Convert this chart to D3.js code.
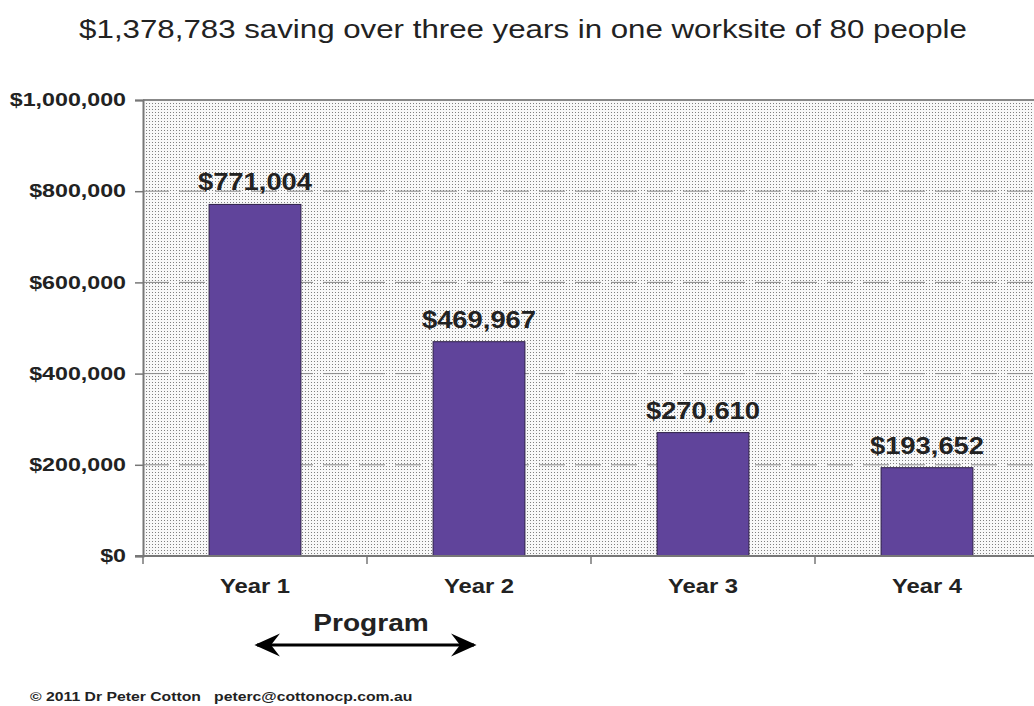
<!DOCTYPE html>
<html>
<head>
<meta charset="utf-8">
<script src="https://cdn.jsdelivr.net/npm/d3@7"></script>
<style>
  body { margin: 0; background: #fff; }
  text { font-family: "Liberation Sans", Arial, sans-serif; }
</style>
</head>
<body>
<div id="chart"></div>
<script>
var years = ["Year 1", "Year 2", "Year 3", "Year 4"];
var savings = [771004, 469967, 270610, 193652];
var yTicks = [0, 200000, 400000, 600000, 800000, 1000000];

var svgWidth = 1034;
var svgHeight = 706;
var margin = { top: 100, right: -5, bottom: 150, left: 143 };
var width = svgWidth - margin.left - margin.right;
var height = svgHeight - margin.top - margin.bottom;

// the original lettering is wider than Liberation Sans, stretch it
function stretch(sel, factor) {
  sel.each(function() {
    var len = this.getComputedTextLength();
    d3.select(this)
      .attr("textLength", len * factor)
      .attr("lengthAdjust", "spacingAndGlyphs");
  });
}

var svg = d3.select("#chart").append("svg")
  .attr("width", svgWidth)
  .attr("height", svgHeight);

// dotted background pattern
var defs = svg.append("defs");
var pat = defs.append("pattern")
  .attr("id", "dots")
  .attr("width", 3)
  .attr("height", 3)
  .attr("patternUnits", "userSpaceOnUse");
pat.append("rect").attr("width", 3).attr("height", 3).attr("fill", "#f8f8f8");
pat.append("rect").attr("width", 1).attr("height", 1).attr("fill", "#808080");

var chartGroup = svg.append("g")
  .attr("transform", `translate(${margin.left}, ${margin.top})`);

var x = d3.scaleBand().domain(years).range([0, width]).paddingInner(0.59).paddingOuter(0.295);
var xBand = d3.scaleBand().domain(years).range([0, width]);
var y = d3.scaleLinear().domain([0, 1000000]).range([height, 0]);

// plot area
chartGroup.append("rect")
  .attr("width", width)
  .attr("height", height)
  .attr("fill", "url(#dots)");

// gridlines
chartGroup.selectAll(".grid")
  .data(yTicks.slice(1, -1))
  .enter()
  .append("line")
  .attr("x1", 0)
  .attr("x2", width)
  .attr("y1", d => y(d))
  .attr("y2", d => y(d))
  .attr("stroke", "#888")
  .attr("stroke-width", 1)
  .attr("stroke-dasharray", "26,10");

// top border
chartGroup.append("line")
  .attr("x1", 0).attr("x2", width)
  .attr("y1", 0).attr("y2", 0)
  .attr("stroke", "#888").attr("stroke-width", 2);

// bars
chartGroup.selectAll(".bar")
  .data(savings)
  .enter()
  .append("rect")
  .attr("x", (d, i) => x(years[i]))
  .attr("y", d => y(d))
  .attr("width", x.bandwidth())
  .attr("height", d => height - y(d))
  .attr("fill", "#60449b")
  .attr("stroke", "#2e2048")
  .attr("stroke-width", 1);

// value labels
var valLabels = chartGroup.selectAll(".val")
  .data(savings)
  .enter()
  .append("text")
  .attr("x", (d, i) => x(years[i]) + x.bandwidth() / 2)
  .attr("y", d => y(d) - 14)
  .attr("text-anchor", "middle")
  .attr("font-size", "23px")
  .attr("font-weight", "bold")
  .attr("fill", "#222")
  .text(d => "$" + d3.format(",")(d));
stretch(valLabels, 1.19);

// y axis
var leftAxis = d3.axisLeft(y)
  .tickValues(yTicks)
  .tickSize(8)
  .tickPadding(9)
  .tickFormat(d => "$" + d3.format(",")(d));
var yAxis = chartGroup.append("g").call(leftAxis);
yAxis.select(".domain").attr("stroke", "#777").attr("stroke-width", 2);
yAxis.selectAll(".tick line").attr("stroke", "#777").attr("stroke-width", 1.5);
yAxis.selectAll("text")
  .attr("font-size", "18px")
  .attr("font-weight", "bold")
  .attr("fill", "#222")
  .style("font-family", "'Liberation Sans', Arial, sans-serif");
stretch(yAxis.selectAll("text"), 1.29);

// x axis
var xAxisG = chartGroup.append("g").attr("transform", `translate(0, ${height})`);
xAxisG.append("line")
  .attr("x1", -8).attr("x2", width)
  .attr("stroke", "#777").attr("stroke-width", 2);
xAxisG.selectAll(".xt")
  .data(years)
  .enter()
  .append("line")
  .attr("x1", d => xBand(d))
  .attr("x2", d => xBand(d))
  .attr("y1", 0).attr("y2", 8)
  .attr("stroke", "#777").attr("stroke-width", 1.5);
var xLabels = xAxisG.selectAll(".xl")
  .data(years)
  .enter()
  .append("text")
  .attr("x", d => xBand(d) + xBand.bandwidth() / 2)
  .attr("y", 37)
  .attr("text-anchor", "middle")
  .attr("font-size", "20px")
  .attr("font-weight", "bold")
  .attr("fill", "#222")
  .text(d => d);
stretch(xLabels, 1.19);

// title
var title = svg.append("text")
  .attr("x", 523)
  .attr("y", 38)
  .attr("text-anchor", "middle")
  .attr("font-size", "25px")
  .attr("fill", "#222")
  .text("$1,378,783 saving over three years in one worksite of 80 people");
stretch(title, 1.25);

// program arrow
defs.append("marker")
  .attr("id", "arrow")
  .attr("viewBox", "0 0 10 10")
  .attr("refX", 9).attr("refY", 5)
  .attr("markerWidth", 8.5).attr("markerHeight", 8.5)
  .attr("orient", "auto-start-reverse")
  .append("path")
  .attr("d", "M0,0.5 L10,5 L0,9.5 L3.5,5 Z")
  .attr("fill", "#000");

svg.append("line")
  .attr("x1", 257).attr("x2", 474)
  .attr("y1", 645).attr("y2", 645)
  .attr("stroke", "#000")
  .attr("stroke-width", 3)
  .attr("marker-start", "url(#arrow)")
  .attr("marker-end", "url(#arrow)");

var prog = svg.append("text")
  .attr("x", 371)
  .attr("y", 631)
  .attr("text-anchor", "middle")
  .attr("font-size", "24px")
  .attr("font-weight", "bold")
  .attr("fill", "#222")
  .text("Program");
stretch(prog, 1.17);

var footer = svg.append("text")
  .attr("x", 30)
  .attr("y", 701)
  .attr("font-size", "12.5px")
  .attr("font-weight", "bold")
  .attr("fill", "#222")
  .attr("xml:space", "preserve")
  .text("\u00a9 2011 Dr Peter Cotton   peterc@cottonocp.com.au");
stretch(footer, 1.26);
</script>
</body>
</html>
